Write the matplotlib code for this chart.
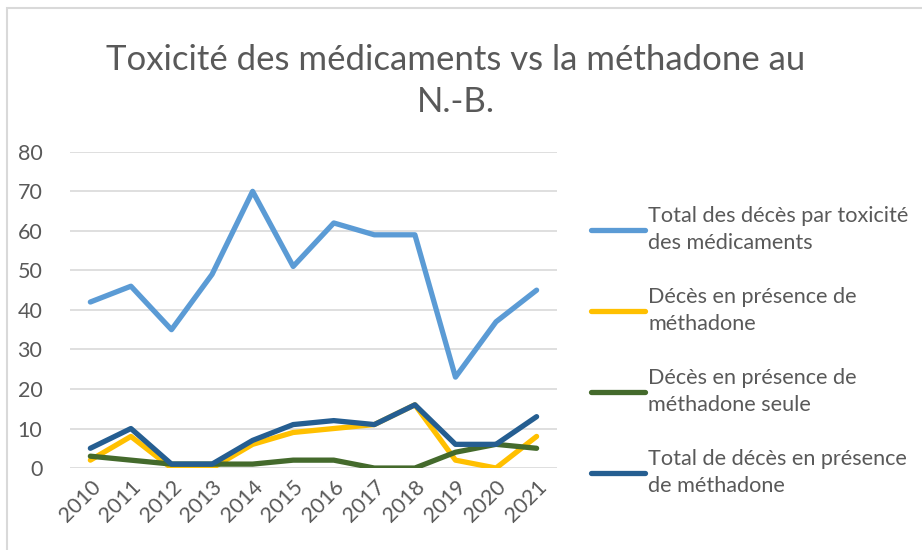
import matplotlib
matplotlib.use('Agg')
import matplotlib.pyplot as plt
from matplotlib.patches import Rectangle

years = ['2010', '2011', '2012', '2013', '2014', '2015', '2016', '2017', '2018', '2019', '2020', '2021']
total_deces = [42, 46, 35, 49, 70, 51, 62, 59, 59, 23, 37, 45]
deces_methadone = [2, 8, 0, 0, 6, 9, 10, 11, 16, 2, 0, 8]
deces_methadone_seule = [3, 2, 1, 1, 1, 2, 2, 0, 0, 4, 6, 5]
total_methadone = [5, 10, 1, 1, 7, 11, 12, 11, 16, 6, 6, 13]

labels = ['Total des décès par toxicité\ndes médicaments',
          'Décès en présence de\nméthadone',
          'Décès en présence de\nméthadone seule',
          'Total de décès en présence\nde méthadone']
colors = ['#5b9bd5', '#ffc000', '#446a2c', '#255e91']
series = [total_deces, deces_methadone, deces_methadone_seule, total_methadone]

plt.rcParams['font.family'] = ['Lato', 'DejaVu Sans']
txt = '#595959'

fig = plt.figure(figsize=(9.22, 5.5), dpi=100)
ax = fig.add_axes([0.076, 0.149, 0.528, 0.575])

x = list(range(len(years)))
for vals, c, lab in zip(series, colors, labels):
    ax.plot(x, vals, color=c, lw=3.8, label=lab, solid_capstyle='round', solid_joinstyle='round')

ax.set_xlim(-0.5, 11.5)
ax.set_ylim(0, 80)
ax.set_yticks(range(0, 81, 10))
ax.set_xticks(x)
ax.set_xticklabels(years, rotation=45, ha='right', rotation_mode='anchor')
ax.tick_params(axis='both', length=0, labelsize=15.5, colors=txt)
ax.tick_params(axis='y', pad=20)
ax.tick_params(axis='x', pad=6)
ax.grid(axis='y', color='#d9d9d9', lw=1.2)
ax.set_axisbelow(True)
for s in ax.spines.values():
    s.set_visible(False)

fig.text(0.494, 0.89, 'Toxicité des médicaments vs la méthadone au', ha='center', va='center',
         fontsize=25, color=txt)
fig.text(0.494, 0.815, 'N.-B.', ha='center', va='center', fontsize=25, color=txt)

leg = ax.legend(loc='center left', bbox_to_anchor=(1.03, 0.37), frameon=False, fontsize=15.6,
                labelcolor=txt, handlelength=2.5, handletextpad=0.15, labelspacing=1.6)
for t in leg.get_texts():
    t.set_linespacing(1.4)

fig.patches.append(Rectangle((7 / 922, -0.1), 1.2, 1 - 8 / 550 + 0.1, transform=fig.transFigure,
                             fill=False, edgecolor='#d9d9d9', lw=1.5))

plt.savefig('out.png', dpi=100)
